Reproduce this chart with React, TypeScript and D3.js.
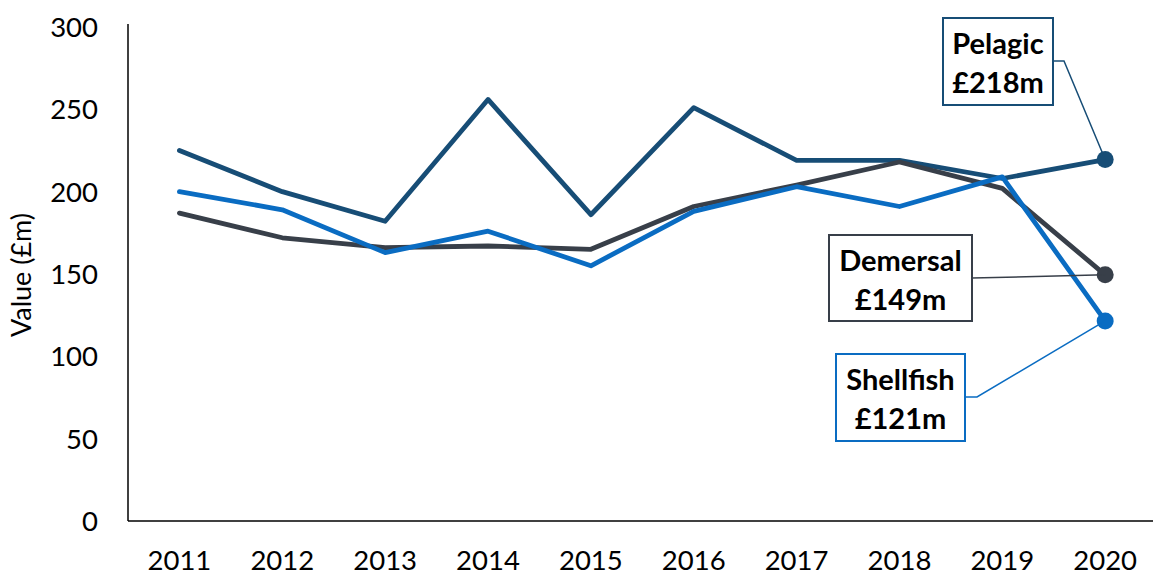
import * as React from "react";
import * as d3 from "d3";

const years = ["2011", "2012", "2013", "2014", "2015", "2016", "2017", "2018", "2019", "2020"];
const pelagic = [225, 200, 182, 256, 186, 251, 219, 219, 208, 219.5];
const demersal = [187, 172, 166, 167, 165, 191, 204, 218, 202, 149.5];
const shellfish = [200, 189, 163, 176, 155, 188, 203, 191, 209, 121.5];
const yTicks = [0, 50, 100, 150, 200, 250, 300];

const seriesNames = ["Pelagic", "Demersal", "Shellfish"];
const seriesLabels = ["£218m", "£149m", "£121m"];
const colors = ["#174d76", "#383f49", "#0a6cc2"];

const W = 1153;
const H = 577;
const FONT = "Lato, 'Open Sans', sans-serif";

export default function App() {
  const x = d3.scalePoint<string>().domain(years).range([128, 1156.6]).padding(0.5);
  const y = d3.scaleLinear().domain([0, 300]).range([521, 27]);
  const line = d3.line<number>()
    .x((_, i) => x(years[i]) as number)
    .y(d => y(d));

  const all = [pelagic, demersal, shellfish];
  const last = years[years.length - 1];
  const lx = x(last) as number;

  // callout boxes with leader line start (ly) and optional elbow x
  const boxes = [
    {x: 943, y: 18, w: 110, h: 87, ly: 61, bend: 1064},
    {x: 829, y: 235, w: 143, h: 86, ly: 278, bend: null},
    {x: 836, y: 354, w: 129, h: 87, ly: 397, bend: 977},
  ];

  return (
    <svg width={W} height={H} style={{position: "absolute", left: 0, top: 0, background: "#fff"}}
         fontFamily={FONT}>
      {/* axes */}
      <line x1={128} x2={W} y1={y(0)} y2={y(0)} stroke="#000" strokeWidth={1.5}/>
      <line x1={128} x2={128} y1={y(300) - 3} y2={y(0)} stroke="#000" strokeWidth={1.5}/>
      {yTicks.map(t => (
        <text key={t} x={98} y={y(t)} dy="0.36em" textAnchor="end" fontSize={27.5} fill="#000">{t}</text>
      ))}
      {years.map(yr => (
        <text key={yr} x={x(yr)} y={570} textAnchor="middle" fontSize={27.5} fill="#000">{yr}</text>
      ))}
      <text transform={`translate(31,275) rotate(-90)`} textAnchor="middle" fontSize={27} fill="#000">Value (£m)</text>

      {/* lines */}
      {all.map((s, i) => (
        <path key={i} d={line(s) as string} fill="none" stroke={colors[i]} strokeWidth={4.8}
              strokeLinejoin="round" strokeLinecap="round"/>
      ))}
      {all.map((s, i) => (
        <circle key={i} cx={lx} cy={y(s[s.length - 1])} r={8.5} fill={colors[i]}/>
      ))}

      {/* callouts */}
      {boxes.map((b, i) => {
        const s = all[i];
        const cy = y(s[s.length - 1]);
        const pts = b.bend != null
          ? `${b.x + b.w},${b.ly} ${b.bend},${b.ly} ${lx},${cy}`
          : `${b.x + b.w},${b.ly} ${lx},${cy}`;
        return (
          <g key={i}>
            <polyline points={pts} fill="none" stroke={colors[i]} strokeWidth={1.5}/>
            <rect x={b.x} y={b.y} width={b.w} height={b.h} fill="#fff" stroke={colors[i]} strokeWidth={2}/>
            <text x={b.x + b.w / 2} y={b.y + 36} textAnchor="middle" fontSize={29} fontWeight="bold" fill="#000">
              {seriesNames[i]}
            </text>
            <text x={b.x + b.w / 2} y={b.y + 75} textAnchor="middle" fontSize={29} fontWeight="bold" fill="#000">
              {seriesLabels[i]}
            </text>
          </g>
        );
      })}
    </svg>
  );
}
